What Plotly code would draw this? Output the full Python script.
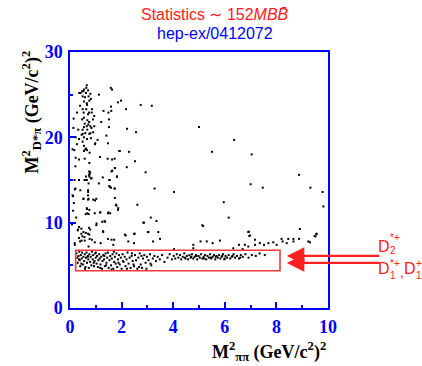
import plotly.graph_objects as go

# ---- data ----
# events outside the D** band
spread_x = [0.65,0.63,0.54,0.70,0.47,0.52,0.36,0.41,0.62,0.79,0.72,0.58,0.49,0.81,0.75,0.54,0.65,0.66,0.39,0.27,
            0.49,0.63,0.85,0.74,0.53,0.70,0.84,0.94,0.54,0.47,0.14,0.67,0.74,0.89,0.57,0.71,0.79,0.65,0.94,0.54,
            0.83,0.13,0.32,0.49,0.67,0.59,0.49,0.79,0.75,0.45,0.90,0.54,0.35,0.22,0.66,0.81,0.49,0.27,0.54,0.98,
            0.62,0.59,0.66,0.10,0.17,0.54,0.76,0.22,0.35,0.57,0.21,0.75,0.62,0.75,0.78,0.74,0.65,0.81,0.57,0.18,
            0.72,0.10,0.70,0.70,0.52,0.70,0.19,0.40,
            1.91,2.29,2.52,2.20,2.93,1.74,1.61,1.82,1.27,1.52,1.12,1.73,1.52,3.28,1.74,1.16,1.46,1.63,1.41,1.47,
            1.51,1.51,1.49,1.60,1.59,1.30,1.21,1.07,0.97,1.12,1.58,1.63,1.98,1.86,2.17,2.74,3.17,2.21,2.56,1.93,
            1.73,
            0.74,0.76,1.64,1.74,0.35,0.57,0.84,1.54,1.82,1.54,1.59,1.73,0.21,0.70,0.12,0.52,0.72,1.02,0.97,
            2.61,1.80,1.86,0.66,0.75,0.61,0.72,0.96,1.18,1.47,1.56,1.25,2.87,1.34,3.13,3.35,0.35,0.44,0.74,0.78,
            1.02,0.30,0.52,0.61,0.44,0.70,0.75,0.48,0.56,0.35,0.45,0.57,0.39,0.76,0.85,0.96,1.19,1.28,1.47,1.71,
            2.26,2.16,2.48,3.02,3.42,3.22,0.18,
            5.00,6.36,5.50,7.04,8.88,7.00,7.47,9.32,9.79,4.03,5.96,9.82,6.15,5.16,8.91,6.93,6.95,9.55,9.48,7.17,
            8.20,8.46,3.49,
            5.13,2.84,3.04,1.87,1.78,6.91,6.98,5.81,5.30,5.06,5.53,4.78,4.78,4.03,6.78,6.55,6.91,7.17,7.36,7.52,
            7.69,7.88,8.01,8.24,8.40,8.66,8.88,8.66,9.24,9.30,9.52,9.56,6.69,6.33,2.51,2.48,2.13,1.61,1.68,1.29,
            1.36,1.03,1.16,1.49,0.67,0.65,0.90,0.72,0.19,0.08,0.12,0.15,0.24,0.31]
spread_y = [26.1,25.8,25.6,25.5,25.4,25.4,25.2,25.2,25.2,25.1,24.8,24.7,24.8,24.5,24.3,24.2,24.0,23.8,23.7,22.9,
            23.3,23.3,23.3,22.9,22.9,22.7,22.9,22.5,22.3,22.1,22.2,22.0,21.8,22.1,21.6,21.5,21.3,21.3,21.3,21.2,
            21.1,21.1,20.9,20.9,20.9,20.5,20.4,20.5,20.4,20.3,20.6,20.0,19.8,20.0,19.8,19.9,19.5,19.2,19.0,19.3,
            18.7,18.6,18.5,18.6,18.5,18.4,18.2,17.6,17.4,17.5,16.6,17.0,15.4,15.4,15.9,15.6,15.0,15.2,15.0,15.0,
            14.6,13.2,13.6,13.2,12.8,12.7,13.9,13.8,
            18.4,18.3,17.2,16.5,15.9,16.4,16.0,15.4,15.3,15.0,14.6,14.0,14.3,14.0,12.9,17.7,17.5,17.4,20.2,19.3,
            22.1,21.2,22.9,23.1,23.6,23.1,21.8,19.7,19.2,25.0,25.8,25.6,24.3,24.1,23.3,23.8,23.7,21.0,20.6,18.4,
            17.5,
            16.0,15.7,16.1,16.4,15.0,15.0,15.2,15.0,15.4,14.2,14.1,14.0,14.0,13.8,13.1,12.8,12.8,12.8,12.6,
            12.1,12.0,11.5,11.6,11.5,11.0,11.0,11.1,11.2,11.1,11.1,10.1,10.0,10.2,10.6,10.2,9.5,9.3,9.4,9.2,
            9.7,9.1,8.9,8.8,8.7,8.7,8.6,8.4,8.3,8.2,7.9,7.9,7.8,8.1,8.0,7.7,7.6,9.0,8.1,8.0,
            7.8,8.5,8.7,8.9,8.9,7.8,7.6,
            21.2,19.7,18.3,18.0,15.6,14.5,14.1,14.1,13.6,13.6,12.4,11.9,10.6,9.6,9.26,8.95,8.44,8.68,8.44,8.0,
            8.1,8.1,8.1,
            9.7,10.0,8.9,11.7,12.1,8.9,8.5,7.9,7.8,7.8,7.6,7.4,7.0,6.9,7.4,7.4,7.2,7.4,7.6,7.4,
            7.6,7.7,7.4,7.8,7.6,7.8,8.1,8.1,7.8,7.7,8.4,8.7,6.9,7.0,8.7,7.6,8.6,8.0,7.4,8.9,
            10.1,9.9,11.2,11.2,11.1,11.7,12.7,7.2,7.4,9.8,11.4,12.3,10.6,9.2]

# events inside the D** band (red box)
band_x = [0.25,0.28,0.30,0.33,0.36,0.38,0.40,0.42,0.45,0.47,0.50,0.52,0.55,0.57,0.60,0.62,0.64,0.66,0.69,0.71,
          0.73,0.75,0.78,0.80,0.83,0.85,0.88,0.90,0.93,0.95,0.98,1.00,1.03,1.05,1.08,1.10,1.13,1.15,1.18,1.21,
          1.24,1.26,1.29,1.32,1.35,1.38,1.41,1.44,1.47,1.50,1.53,1.56,1.59,1.62,1.65,1.68,1.71,1.74,1.77,1.80,
          1.83,1.86,1.90,1.93,1.97,2.00,2.04,2.08,2.12,2.15,2.19,2.23,2.27,2.31,2.35,2.39,2.43,2.48,2.52,2.56,
          2.61,2.65,2.70,2.74,2.79,2.83,2.88,2.93,2.98,3.04,3.10,3.15,3.21,3.27,3.33,3.40,3.48,3.57,3.66,3.78,
          3.86,3.95,4.02,4.08,4.14,4.20,4.26,4.31,4.37,4.43,4.48,4.53,4.58,4.63,4.68,4.73,4.78,4.83,4.88,4.93,
          4.98,5.03,5.08,5.13,5.18,5.23,5.28,5.33,5.38,5.43,5.48,5.53,5.58,5.63,5.68,5.73,5.78,5.83,5.88,5.93,
          5.98,6.03,6.09,6.15,6.21,6.27,6.34,6.40,6.47,6.55,6.62,6.70,6.80,6.92,7.05,7.20,7.35,7.55,
          0.44,0.58,0.92,1.17,1.40,1.61,1.88,2.21,2.46,2.68,2.96,3.12,0.35,0.68,1.00,1.33,1.70,2.05,2.40,2.77,
          4.45,4.90,5.20,5.65,6.00,6.30,4.70,5.45,5.90,6.60]
band_y = [6.4,5.9,5.3,6.1,6.6,5.6,4.9,6.2,5.8,6.5,5.1,6.0,5.5,6.3,4.8,5.9,6.5,5.3,6.1,5.7,
          4.7,6.3,5.4,6.0,5.0,6.6,5.7,6.2,4.9,5.5,6.4,5.9,5.2,6.1,4.8,5.6,6.3,5.8,5.1,6.0,
          4.6,5.5,6.2,5.7,4.9,6.4,5.3,5.9,6.5,4.7,5.6,6.1,5.0,5.8,6.3,4.6,5.4,6.0,5.2,6.4,
          4.8,5.7,6.2,5.1,5.9,4.6,6.3,5.4,6.0,4.9,5.7,6.5,5.2,5.9,4.7,6.1,5.5,4.9,6.2,5.6,
          4.6,5.9,6.4,5.1,4.7,5.8,6.2,5.3,6.0,5.6,6.3,5.0,5.8,6.1,5.5,6.0,5.7,6.2,5.4,5.9,
          6.3,5.7,6.1,5.8,6.3,5.9,6.2,5.7,6.0,6.4,5.8,6.1,5.7,6.2,5.9,6.3,5.8,6.0,6.2,5.7,
          6.1,5.9,6.3,5.8,6.0,6.2,5.7,6.1,5.9,6.3,5.8,6.0,6.2,5.7,6.1,5.9,6.2,5.8,6.0,6.3,
          5.7,6.1,5.9,6.2,5.8,6.0,6.3,5.9,6.1,5.8,6.2,6.0,6.3,5.9,6.2,6.1,6.4,6.2,
          5.2,4.6,5.3,4.7,5.0,4.5,5.3,4.6,5.1,4.8,4.6,5.2,5.7,6.0,6.5,6.1,6.6,5.5,6.4,6.1,
          5.9,6.1,5.8,6.0,5.8,6.1,6.0,5.9,6.1,5.9]

box_x = [0.22, 8.14]
box_y = [4.37, 6.76]
arrow_y = [6.1, 5.28]
arrow_tip_x = 8.4
x_ticks = [0, 2, 4, 6, 8, 10]
y_ticks = [0, 10, 20, 30]

BLUE = "#0000ff"
RED = "#ff2020"
W, H = 422, 366
L, R, T, B = 70, 94, 52, 58


def px_to_paper(px, py):
    return (px - L) / (W - L - R), (H - B - py) / (H - T - B)


fig = go.Figure()
fig.add_trace(go.Scatter(x=spread_x + band_x, y=spread_y + band_y, mode="markers",
                         marker=dict(symbol="square", size=2, color="black", line=dict(width=0)),
                         showlegend=False, hoverinfo="skip"))

fig.add_shape(type="rect", xref="x", yref="y", x0=box_x[0], x1=box_x[1], y0=box_y[0], y1=box_y[1],
              line=dict(color="#f03a3a", width=1.6))

axis_common = dict(showline=True, linecolor=BLUE, linewidth=1.5, mirror=True, showgrid=False, zeroline=False,
                   ticks="inside", tickcolor=BLUE, tickwidth=1.5, ticklen=6,
                   tickfont=dict(family="Liberation Serif", size=18, color=BLUE, weight="bold"))
fig.update_xaxes(range=[0, 10], tickvals=x_ticks, ticktext=[str(v) for v in x_ticks],
                 minor=dict(dtick=1, ticks="inside", ticklen=3, tickcolor=BLUE, tickwidth=1.5),
                 ticklabelstandoff=2, **axis_common)
fig.update_yaxes(range=[0, 30], tickvals=y_ticks, ticktext=[str(v) for v in y_ticks],
                 minor=dict(dtick=5, ticks="inside", ticklen=3, tickcolor=BLUE, tickwidth=1.5),
                 ticklabelstandoff=2, **axis_common)

ann = []
ann.append(dict(text="Statistics \u223c 152<i>MBB\u0304</i>", xref="paper", yref="paper", x=0.562, y=1.145,
                xanchor="center", yanchor="middle", showarrow=False,
                font=dict(family="Liberation Sans", size=16, color=RED)))
ann.append(dict(text="hep-ex/0412072", xref="paper", yref="paper", x=0.562, y=1.074,
                xanchor="center", yanchor="middle", showarrow=False,
                font=dict(family="Liberation Sans", size=16, color=BLUE)))
ann.append(dict(text="<b>M<sup>2</sup><sub>\u03c0\u03c0</sub> (GeV/c<sup>2</sup>)<sup>2</sup></b>",
                xref="paper", yref="paper", x=0.771, y=-0.17, xanchor="center", yanchor="middle",
                showarrow=False, font=dict(family="Liberation Serif", size=18, color="black")))
ann.append(dict(text="<b>M<sup>2</sup><sub>D*\u03c0</sub> (GeV/c<sup>2</sup>)<sup>2</sup></b>",
                xref="paper", yref="paper", x=-0.15, y=0.765, xanchor="center", yanchor="middle",
                textangle=-90, showarrow=False, font=dict(family="Liberation Serif", size=18, color="black")))
for ay_val in arrow_y:
    ann.append(dict(text="", xref="x", yref="y", x=arrow_tip_x, y=ay_val, ax=94, ay=0,
                    showarrow=True, arrowhead=2, arrowsize=1.6, arrowwidth=2.2, arrowcolor=RED))

# resonance labels: main letter with stacked super/subscripts (pixel positions of pieces)
label_pieces = [
    ("D", 377, 246, 16), ("*+", 389, 237, 10), ("2", 389, 250, 10),
    ("D", 377, 268, 16), ("*+", 389, 263, 10), ("1", 389, 275, 10),
    (",", 399, 272, 14),
    ("D", 403, 268, 16), ("+", 415, 263, 10), ("1", 415, 275, 10),
]
for txt, px, py, fs in label_pieces:
    xp, yp = px_to_paper(px, py)
    ann.append(dict(text=txt, xref="paper", yref="paper", x=xp, y=yp, xanchor="left", yanchor="middle",
                    showarrow=False, borderpad=0,
                    font=dict(family="Liberation Sans", size=fs, color=RED)))

fig.update_layout(width=W, height=H, margin=dict(l=L, r=R, t=T, b=B),
                  paper_bgcolor="white", plot_bgcolor="white", annotations=ann)

fig.write_html("out.html")
